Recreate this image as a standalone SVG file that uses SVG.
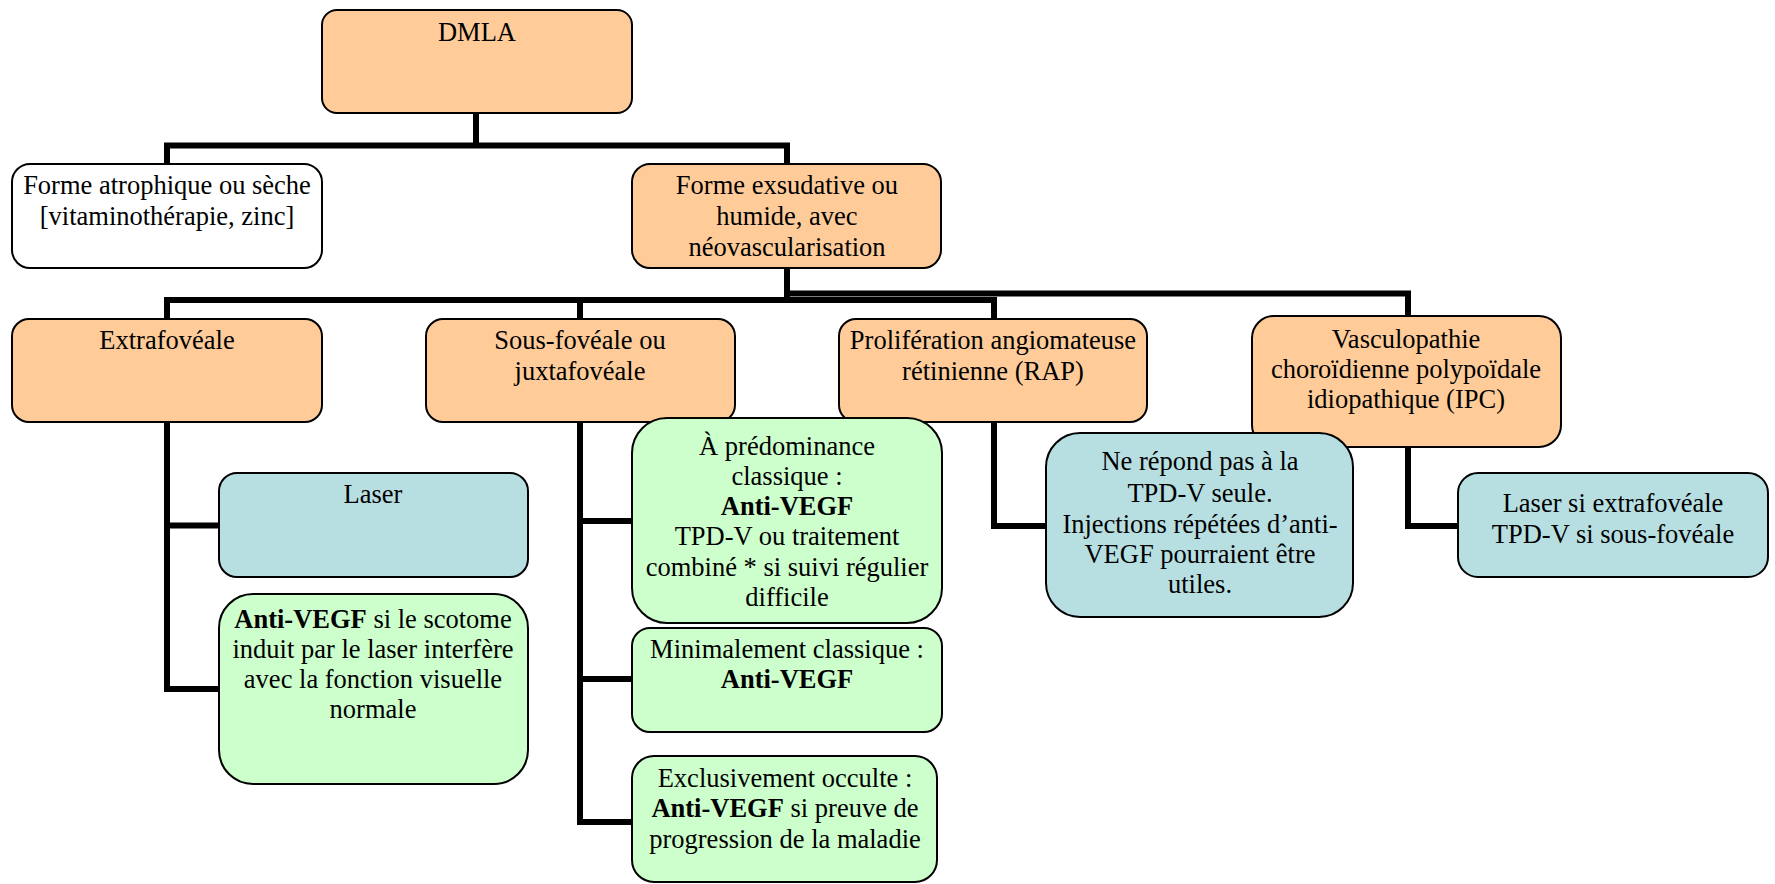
<svg xmlns="http://www.w3.org/2000/svg" width="1775" height="884" viewBox="0 0 1775 884">
<style>
.t{font-family:"Liberation Serif","Times New Roman",serif;font-size:26.5px;fill:#000;text-anchor:middle}
.b{font-weight:bold}
.bx{stroke:#000;stroke-width:2}
.or{fill:#FFCC99}
.wh{fill:#FFFFFF}
.bl{fill:#B7DFE2}
.gr{fill:#CCFFCC}
.c{fill:none;stroke:#000;stroke-width:6;stroke-linejoin:miter}
</style>
<rect width="1775" height="884" fill="#fff"/>
<g id="connectors">
<path class="c" d="M476,113 V145.5 M167,164 V145.5 H787 V164"/>
<path class="c" d="M787,268 V300 M167,319 V300 H994 V319 M580,300 V319 M787,293.5 H1408 V316"/>
<path class="c" d="M167,422 V689 H219 M167,525.5 H219"/>
<path class="c" d="M580,422 V822 H632 M580,521 H632 M580,679 H632"/>
<path class="c" d="M994,422 V526 H1046"/>
<path class="c" d="M1408,447 V526 H1458"/>
</g>
<g id="n-dmla"><rect class="bx or" x="322" y="10" width="310" height="103" rx="15"/><text class="t" x="477" y="41">DMLA</text></g>
<g id="n-atro"><rect class="bx wh" x="12" y="164" width="310" height="104" rx="18"/><text class="t" x="167" y="194">Forme atrophique ou sèche</text><text class="t" x="167" y="225">[vitaminothérapie, zinc]</text></g>
<g id="n-exsu"><rect class="bx or" x="632" y="164" width="309" height="104" rx="18"/><text class="t" x="787" y="194">Forme exsudative ou</text><text class="t" x="787" y="225">humide, avec</text><text class="t" x="787" y="256">néovascularisation</text></g>
<g id="n-extra"><rect class="bx or" x="12" y="319" width="310" height="103" rx="17"/><text class="t" x="167" y="349">Extrafovéale</text></g>
<g id="n-sous"><rect class="bx or" x="426" y="319" width="309" height="103" rx="17"/><text class="t" x="580" y="349">Sous-fovéale ou</text><text class="t" x="580" y="380">juxtafovéale</text></g>
<g id="n-prolif"><rect class="bx or" x="839" y="319" width="308" height="103" rx="17"/><text class="t" x="993" y="349">Prolifération angiomateuse</text><text class="t" x="993" y="380">rétinienne (RAP)</text></g>
<g id="n-vasc"><rect class="bx or" x="1252" y="316" width="309" height="131" rx="22"/><text class="t" x="1406" y="348">Vasculopathie</text><text class="t" x="1406" y="378">choroïdienne polypoïdale</text><text class="t" x="1406" y="408">idiopathique (IPC)</text></g>
<g id="n-laser"><rect class="bx bl" x="219" y="473" width="309" height="104" rx="18"/><text class="t" x="373" y="503">Laser</text></g>
<g id="n-antivegf"><rect class="bx gr" x="219" y="594" width="309" height="190" rx="34"/><text class="t" x="373" y="628"><tspan class="b">Anti-VEGF</tspan> si le scotome</text><text class="t" x="373" y="658">induit par le laser interfère</text><text class="t" x="373" y="688">avec la fonction visuelle</text><text class="t" x="373" y="718">normale</text></g>
<g id="n-predom"><rect class="bx gr" x="632" y="418" width="310" height="205" rx="35"/><text class="t" x="787" y="455">À prédominance</text><text class="t" x="787" y="485">classique :</text><text class="t b" x="787" y="515">Anti-VEGF</text><text class="t" x="787" y="545">TPD-V ou traitement</text><text class="t" x="787" y="576">combiné * si suivi régulier</text><text class="t" x="787" y="606">difficile</text></g>
<g id="n-mini"><rect class="bx gr" x="632" y="628" width="310" height="104" rx="18"/><text class="t" x="787" y="658">Minimalement classique :</text><text class="t b" x="787" y="688">Anti-VEGF</text></g>
<g id="n-excl"><rect class="bx gr" x="632" y="756" width="305" height="126" rx="22"/><text class="t" x="785" y="787">Exclusivement occulte :</text><text class="t" x="785" y="817"><tspan class="b">Anti-VEGF</tspan> si preuve de</text><text class="t" x="785" y="848">progression de la maladie</text></g>
<g id="n-rap"><rect class="bx bl" x="1046" y="433" width="307" height="184" rx="34"/><text class="t" x="1200" y="470">Ne répond pas à la</text><text class="t" x="1200" y="502">TPD-V seule.</text><text class="t" x="1200" y="533">Injections répétées d’anti-</text><text class="t" x="1200" y="563">VEGF pourraient être</text><text class="t" x="1200" y="593">utiles.</text></g>
<g id="n-ipc"><rect class="bx bl" x="1458" y="473" width="310" height="104" rx="20"/><text class="t" x="1613" y="512">Laser si extrafovéale</text><text class="t" x="1613" y="543">TPD-V si sous-fovéale</text></g>
</svg>
